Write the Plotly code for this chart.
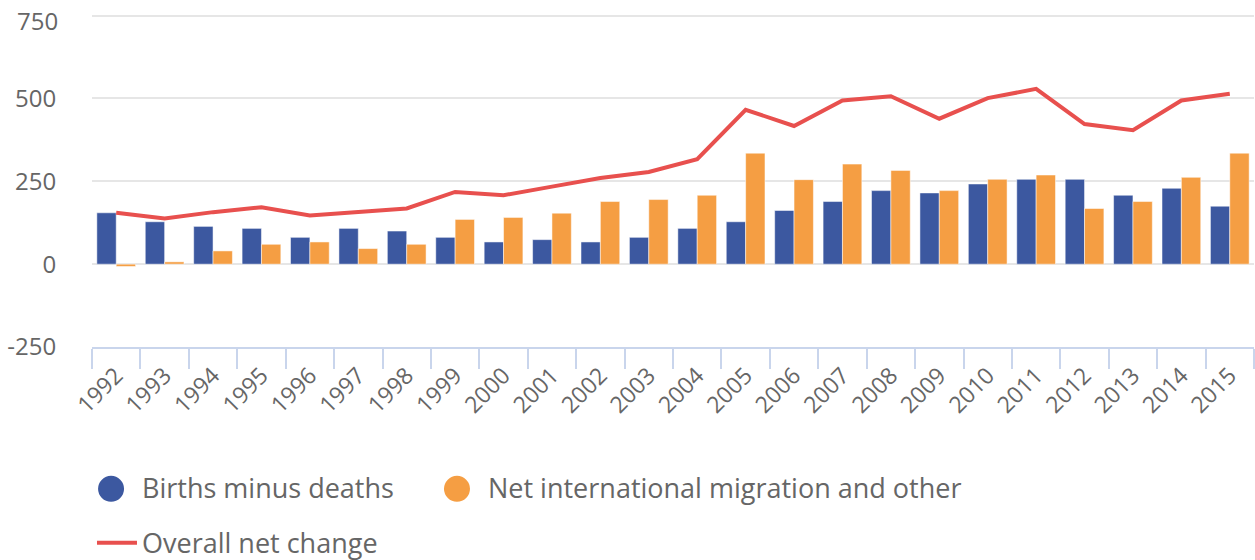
import plotly.graph_objects as go

years = [str(y) for y in range(1992, 2016)]

births_minus_deaths = [155, 128, 114, 108, 81, 108, 100, 81, 67, 74, 67, 81,
                       108, 128, 162, 189, 222, 215, 242, 256, 256, 208, 229, 175]
net_migration = [-7, 7, 40, 60, 67, 47, 60, 135, 141, 154, 189, 195,
                 208, 335, 255, 302, 283, 222, 256, 269, 168, 189, 262, 335]
overall_net_change = [155, 138, 157, 172, 147, 159, 168, 218, 208, 234, 260, 278,
                      317, 466, 417, 494, 507, 439, 501, 529, 423, 404, 494, 514]

y_ticks = [-250, 0, 250, 500, 750]
y_tick_labels = ["-250", "0", "250", "500", ""]  # top label is placed as an annotation

BLUE = "#3c58a0"
ORANGE = "#f59e43"
RED = "#e8504e"
TEXT = "#666666"
AXIS = "#c9d5ec"
FONT = "Open Sans"

fig = go.Figure()

fig.add_trace(go.Bar(x=years, y=births_minus_deaths, name="Births minus deaths",
                     marker=dict(color=BLUE, line=dict(width=1, color="rgba(255,255,255,0.5)")),
                     showlegend=False))
fig.add_trace(go.Bar(x=years, y=net_migration, name="Net international migration and other",
                     marker=dict(color=ORANGE, line=dict(width=1, color="rgba(255,255,255,0.5)")),
                     showlegend=False))
fig.add_trace(go.Scatter(x=years, y=overall_net_change, name="Overall net change",
                         mode="lines", line=dict(color=RED, width=4),
                         legend="legend3"))

# legend entries for the bars; the big round swatches are drawn as shapes below
fig.add_trace(go.Scatter(x=[None], y=[None], mode="markers", name="Births minus deaths",
                         marker=dict(color="rgba(0,0,0,0)", size=16), legend="legend"))
fig.add_trace(go.Scatter(x=[None], y=[None], mode="markers",
                         name="Net international migration and other",
                         marker=dict(color="rgba(0,0,0,0)", size=16), legend="legend2"))

for cx, color in [(0.0164, BLUE), (0.3141, ORANGE)]:
    fig.add_shape(type="circle", xref="paper", yref="paper", xsizemode="pixel",
                  ysizemode="pixel", xanchor=cx, yanchor=-0.426, x0=-13, x1=13,
                  y0=-13, y1=13, fillcolor=color, line=dict(width=0))

# top y label, nudged down so it stays inside the page
fig.add_annotation(text=str(y_ticks[-1]), xref="paper", x=0, xanchor="right", xshift=-32,
                   yref="y", y=y_ticks[-1], yanchor="middle", yshift=-5, showarrow=False,
                   font=dict(family=FONT, size=24, color=TEXT))

legend_font = dict(family=FONT, size=27, color=TEXT)
leg = dict(orientation="h", xanchor="left", yanchor="middle", font=legend_font,
           xref="container", yref="container", itemwidth=40, bgcolor="rgba(0,0,0,0)")

fig.update_layout(
    width=1255, height=560,
    margin=dict(l=92, r=1, t=14, b=213, autoexpand=False),
    paper_bgcolor="white", plot_bgcolor="white",
    barmode="group", bargap=0.2, bargroupgap=0,
    font=dict(family=FONT, color=TEXT),
    legend=dict(leg, x=0.0733, y=0.128),
    legend2=dict(leg, x=0.349, y=0.128),
    legend3=dict(leg, x=0.0733, y=0.030),
)

fig.update_xaxes(type="category", tickson="boundaries", ticks="outside", ticklen=20,
                 tickcolor=AXIS, tickwidth=2, showline=True, linecolor=AXIS,
                 linewidth=2, showgrid=False, tickangle=-45, automargin=False,
                 ticklabelstandoff=4,
                 tickfont=dict(family=FONT, size=23, color=TEXT))
fig.update_yaxes(range=[-250, 755], tickvals=y_ticks, ticktext=y_tick_labels, showgrid=True,
                 gridcolor="#e6e6e6", gridwidth=2, zeroline=True, zerolinecolor="#e6e6e6",
                 zerolinewidth=2, showline=False, ticks="outside", ticklen=30,
                 tickcolor="rgba(0,0,0,0)", automargin=False,
                 tickfont=dict(family=FONT, size=24, color=TEXT))

fig.write_html("out.html", config={"displayModeBar": False},
               post_script="document.body.style.margin = '0';")
